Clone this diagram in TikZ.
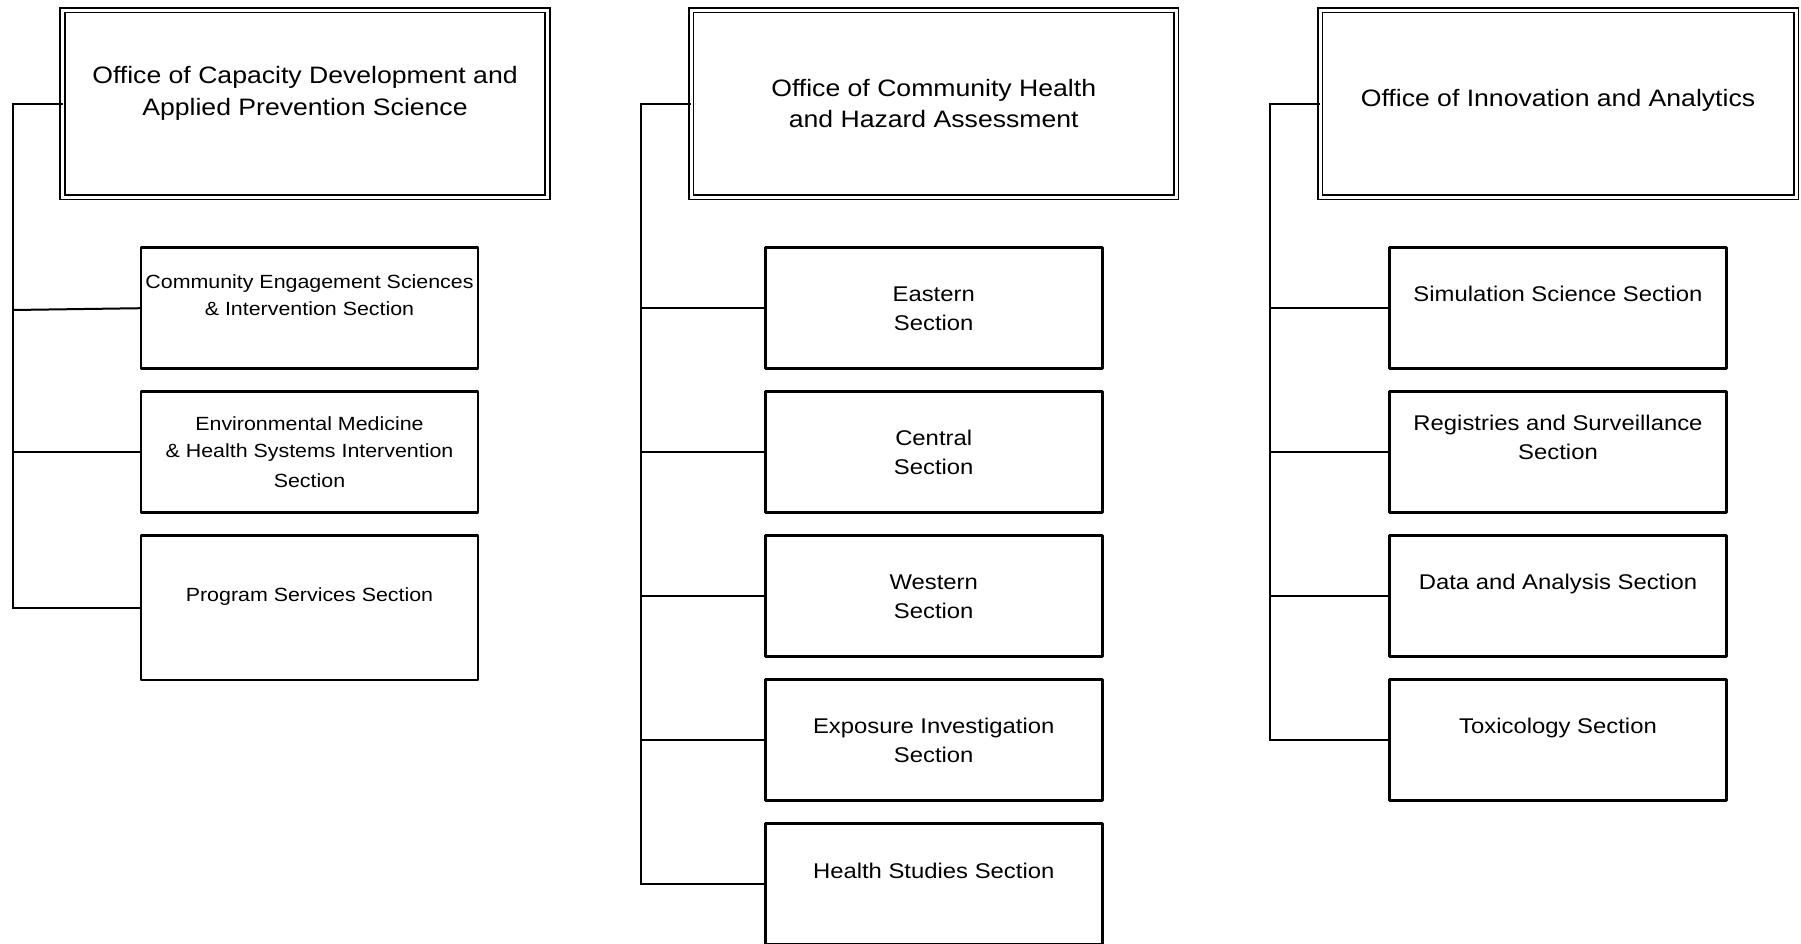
\documentclass[tikz,border=0pt]{standalone}
\usepackage{fontspec}
\setmainfont{Liberation Sans}[FakeStretch=1.12]
\usetikzlibrary{calc}
\tikzset{
  officebox/.style={draw, line width=1.7pt, double, double distance=3pt, minimum height=187pt, inner sep=0pt, outer sep=0pt},
  unitbox/.style={draw, line width=2.8pt, line join=round, minimum width=337pt, minimum height=121pt, inner sep=0pt, outer sep=0pt},
  link/.style={line width=2pt},
  otext/.style={anchor=base, inner sep=0pt, font=\fontsize{23.75pt}{31.7pt}\selectfont},
  ltext/.style={anchor=base, inner sep=0pt, font=\fontsize{19.1pt}{26.7pt}\selectfont},
  mtext/.style={anchor=base, inner sep=0pt, font=\fontsize{21.3pt}{28.8pt}\selectfont},
}
\newcommand{\lines}[1]{\begin{tabular}[t]{@{}c@{}}#1\end{tabular}}
\begin{document}
\begin{tikzpicture}[x=1pt,y=-1pt]
\useasboundingbox (0,0) rectangle (1801,943);
\clip (0,0) rectangle (1801,943);

% ---------- offices ----------
\node[officebox, minimum width=485pt] (o1) at (305,103.5) {};
\node[officebox, minimum width=485pt] (o2) at (933.7,103.5) {};
\node[officebox, minimum width=476pt] (o3) at (1558,103.5) {};
\node[otext] (o1t) at ($(o1.north)+(0,73.3)$) {\lines{Office of Capacity Development and\\Applied Prevention Science}};
\node[otext] (o2t) at ($(o2.north)+(0,86)$) {\lines{Office of Community Health\\and Hazard Assessment}};
\node[otext] (o3t) at ($(o3.north)+(0,96.7)$) {\lines{Office of Innovation and Analytics}};

% ---------- left column ----------
\node[unitbox] (l1) at (309.5,308.2) {};
\node[unitbox] (l2) at (309.5,452) {};
\node[unitbox, minimum height=144.3pt] (l3) at (309.5,607.85) {};
\node[ltext] (l1t) at ($(l1.north)+(0,40.6)$) {\lines{Community Engagement Sciences\\\& Intervention Section}};
\node[ltext] (l2t) at ($(l2.north)+(0,39.2)$) {\lines{Environmental Medicine\\\& Health Systems Intervention\\[3.5pt]Section}};
\node[ltext] (l3t) at ($(l3.north)+(0,66)$) {\lines{Program Services Section}};

% ---------- middle column ----------
\node[unitbox] (m1) at (933.7,308.2) {};
\node[unitbox] (m2) at (933.7,452) {};
\node[unitbox] (m3) at (933.7,596) {};
\node[unitbox] (m4) at (933.7,740) {};
\node[unitbox] (m5) at (933.7,883.7) {};
\node[mtext] (m1t) at ($(m1.north)+(0,54)$) {\lines{Eastern\\Section}};
\node[mtext] (m2t) at ($(m2.north)+(0,54)$) {\lines{Central\\Section}};
\node[mtext] (m3t) at ($(m3.north)+(0,54)$) {\lines{Western\\Section}};
\node[mtext] (m4t) at ($(m4.north)+(0,54)$) {\lines{Exposure Investigation\\Section}};
\node[mtext] (m5t) at ($(m5.north)+(0,55)$) {\lines{Health Studies Section}};

% ---------- right column ----------
\node[unitbox] (r1) at (1558,308.2) {};
\node[unitbox] (r2) at (1558,452) {};
\node[unitbox] (r3) at (1558,596) {};
\node[unitbox] (r4) at (1558,740) {};
\node[mtext] (r1t) at ($(r1.north)+(0,53.5)$) {\lines{Simulation Science Section}};
\node[mtext] (r2t) at ($(r2.north)+(0,39.2)$) {\lines{Registries and Surveillance\\Section}};
\node[mtext] (r3t) at ($(r3.north)+(0,53.8)$) {\lines{Data and Analysis Section}};
\node[mtext] (r4t) at ($(r4.north)+(0,53.8)$) {\lines{Toxicology Section}};

% ---------- connectors ----------
\coordinate (tL) at (12.6,0);
\coordinate (tM) at (641,0);
\coordinate (tR) at (1269.7,0);
\coordinate (l1j) at (12.6,310);

\draw[link] (o1.west) -- (o1.west -| tL) -- (l3.west -| tL) -- (l3.west);
\draw[link] (l1j) -- (l1.west);
\draw[link] (l2.west -| tL) -- (l2.west);

\draw[link] (o2.west) -- (o2.west -| tM) -- (m5.west -| tM) -- (m5.west);
\draw[link] (m1.west -| tM) -- (m1.west);
\draw[link] (m2.west -| tM) -- (m2.west);
\draw[link] (m3.west -| tM) -- (m3.west);
\draw[link] (m4.west -| tM) -- (m4.west);

\draw[link] (o3.west) -- (o3.west -| tR) -- (r4.west -| tR) -- (r4.west);
\draw[link] (r1.west -| tR) -- (r1.west);
\draw[link] (r2.west -| tR) -- (r2.west);
\draw[link] (r3.west -| tR) -- (r3.west);
\end{tikzpicture}
\end{document}
